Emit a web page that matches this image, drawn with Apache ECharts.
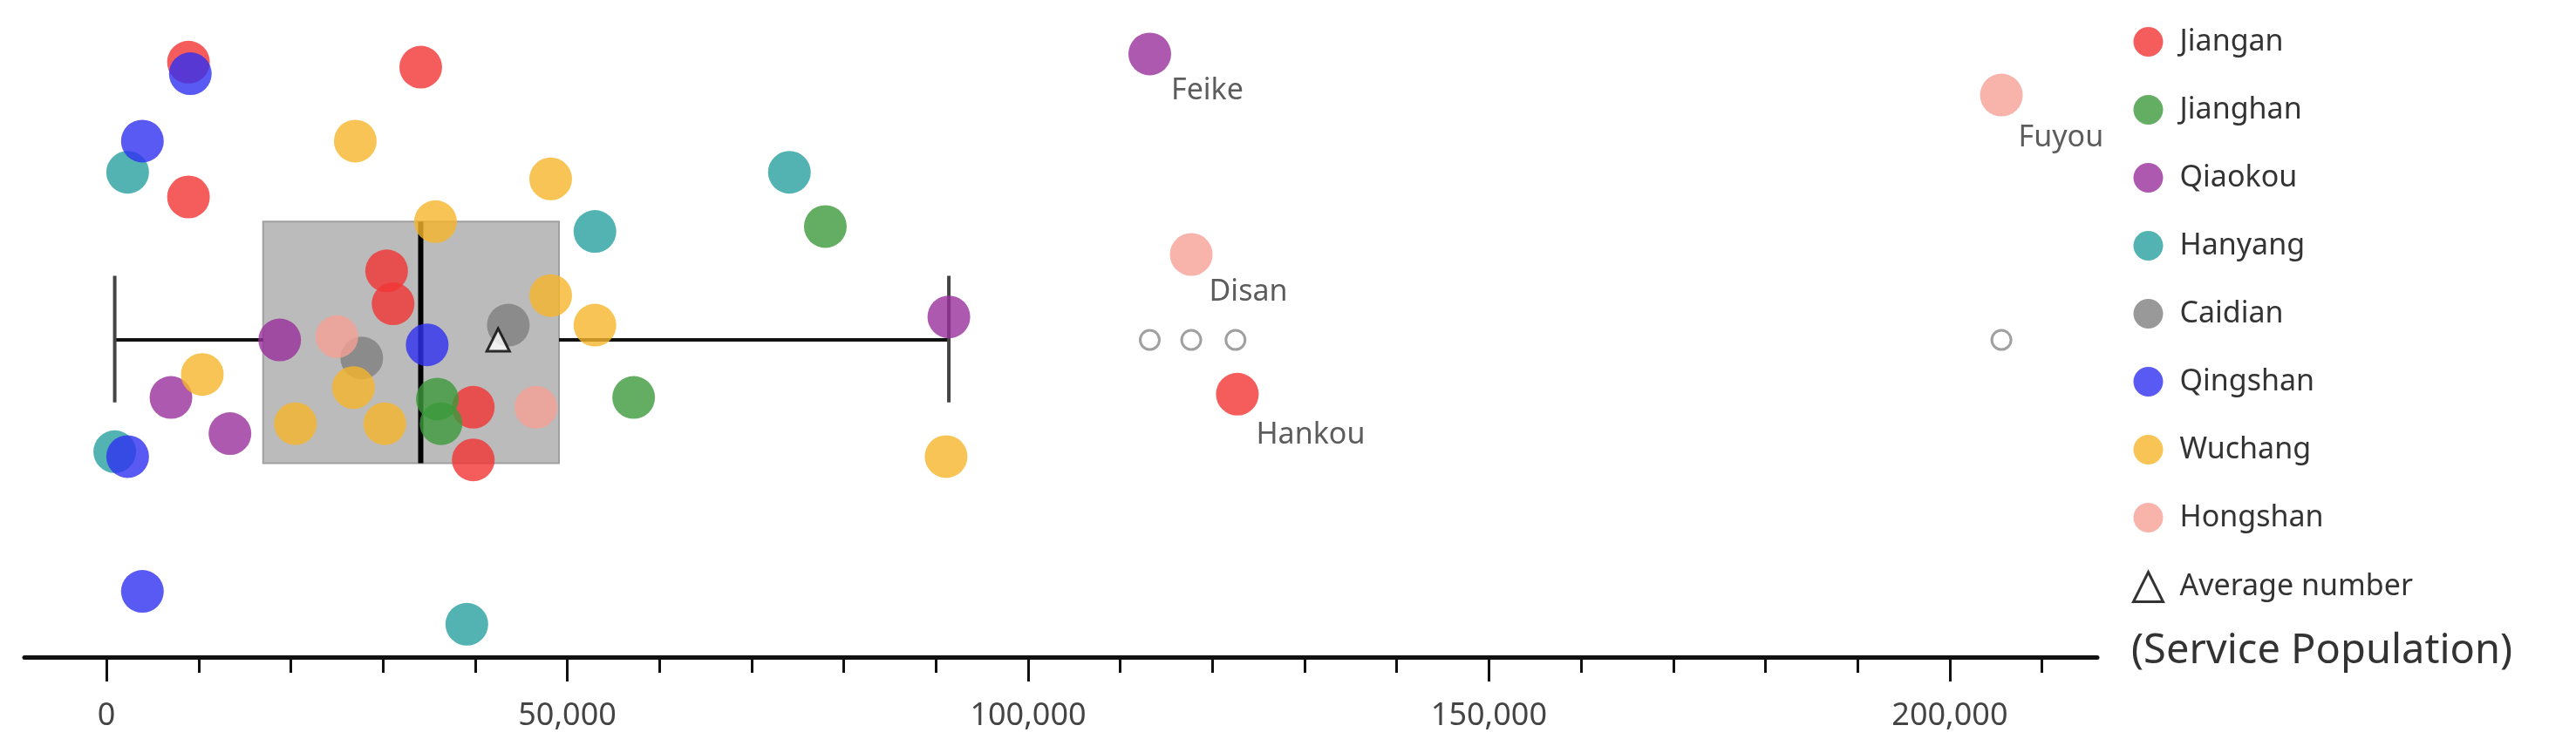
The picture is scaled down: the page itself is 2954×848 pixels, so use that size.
<!DOCTYPE html>
<html>
<head>
<meta charset="utf-8">
<script src="https://cdn.jsdelivr.net/npm/echarts@6/dist/echarts.min.js"></script>
<style>html,body{margin:0;padding:0;background:#fff}</style>
</head>
<body>
<div id="chart" style="width:2954px;height:848px"></div>
<script>
// service population (x) and vertical jitter (y), per district
var districts = ['Jiangan', 'Jianghan', 'Qiaokou', 'Hanyang', 'Caidian', 'Qingshan', 'Wuchang', 'Hongshan'];
var colors = ['#f23434', '#3c9a3c', '#982f9c', '#28a0a0', '#808080', '#2f2ff0', '#f8b52c', '#f6a096'];
var jiangan = [[8900, 362], [34100, 359], [8900, 280], [30400, 235], [31100, 215], [39800, 152], [39800, 120], [122700, 160, 'Hankou']];
var jianghan = [[78000, 262], [57200, 158], [35900, 157], [36300, 142]];
var qiaokou = [[113200, 367, 'Feike'], [91400, 207], [18800, 193], [7000, 158], [13400, 136]];
var hanyang = [[2300, 295], [74100, 295], [53000, 259], [900, 125], [39100, 20]];
var caidian = [[43600, 202], [27700, 182]];
var qingshan = [[9100, 355], [3900, 314], [34800, 190], [2300, 122], [3900, 40]];
var wuchang = [[27000, 314], [48200, 291], [35700, 265], [48200, 220], [53000, 202], [10400, 172], [26800, 164], [20500, 142], [30200, 142], [91100, 122]];
var hongshan = [[205600, 342, 'Fuyou'], [117700, 245, 'Disan'], [25000, 195], [46600, 152]];
var groups = [jiangan, jianghan, qiaokou, hanyang, caidian, qingshan, wuchang, hongshan];
// box: min, q1, median, q3, max
var boxStats = [900, 17000, 34100, 49100, 91400];
var average = 42500;
var outliers = [113200, 117700, 122500, 205600];
var labelOffsets = {Feike: [0, 42], Fuyou: [-5, 49], Disan: [-4, 43], Hankou: [-3, 47]};

var chart = echarts.init(document.getElementById('chart'));
var font = '"Noto Sans", "Open Sans", sans-serif';
var series = [{
    type: 'custom',
    z: 1,
    silent: true,
    data: [boxStats],
    renderItem: function (params, api) {
        var lo = 118, hi = 265, mid = 193, capLo = 155, capHi = 232;
        var p = function (x, y) { return api.coord([x, y]); };
        var q1 = p(api.value(1), hi), q3 = p(api.value(3), lo);
        var line = {stroke: '#111', lineWidth: 4};
        return {type: 'group', children: [
            {type: 'rect', shape: {x: q1[0], y: q1[1], width: q3[0] - q1[0], height: q3[1] - q1[1]},
             style: {fill: 'rgba(150,150,150,0.65)', stroke: '#a0a0a0', lineWidth: 2}},
            {type: 'line', shape: {x1: p(api.value(0), mid)[0], y1: p(0, mid)[1], x2: q1[0], y2: p(0, mid)[1]}, style: line},
            {type: 'line', shape: {x1: q3[0], y1: p(0, mid)[1], x2: p(api.value(4), mid)[0], y2: p(0, mid)[1]}, style: line},
            {type: 'line', shape: {x1: p(api.value(0), 0)[0], y1: p(0, capLo)[1], x2: p(api.value(0), 0)[0], y2: p(0, capHi)[1]}, style: {stroke: '#444', lineWidth: 4}},
            {type: 'line', shape: {x1: p(api.value(4), 0)[0], y1: p(0, capLo)[1], x2: p(api.value(4), 0)[0], y2: p(0, capHi)[1]}, style: {stroke: '#444', lineWidth: 4}},
            {type: 'line', shape: {x1: p(api.value(2), 0)[0], y1: p(0, lo)[1], x2: p(api.value(2), 0)[0], y2: p(0, hi)[1]}, style: {stroke: '#000', lineWidth: 6}}
        ]};
    }
}];
groups.forEach(function (g, i) {
    series.push({
        name: districts[i],
        type: 'scatter',
        symbolSize: 49,
        z: 3,
        itemStyle: {color: colors[i], opacity: 0.8},
        data: g.map(function (d) {
            var o = {value: [d[0], d[1]]};
            if (d[2]) {
                o.label = {show: true, formatter: d[2], position: 'right', distance: 0,
                    offset: labelOffsets[d[2]], fontSize: 34, color: '#333', fontFamily: font};
            }
            return o;
        })
    });
});
series.push({
    type: 'scatter', symbol: 'circle', symbolSize: 22, z: 4, silent: true,
    itemStyle: {color: '#fff', borderColor: '#888', borderWidth: 3},
    data: outliers.map(function (v) { return [v, 193]; })
});
series.push({
    name: 'Average number', type: 'scatter', symbol: 'triangle', symbolSize: [26, 26], z: 5,
    itemStyle: {color: '#fff', borderColor: '#000', borderWidth: 3},
    data: [[average, 193]]
});

var majors = [0, 50000, 100000, 150000, 200000];
var minors = [];
for (var t = 0; t <= 210000; t += 10000) minors.push(t);

chart.setOption({
    animation: false,
    textStyle: {fontFamily: font},
    grid: {left: 28, right: 549, top: 28, bottom: 94},
    legend: {
        orient: 'vertical', left: 2440, top: 26,
        itemWidth: 34, itemHeight: 34, itemGap: 44,
        textStyle: {fontSize: 34, color: '#333', fontFamily: font, padding: [0, 0, 0, 14]},
        data: districts.map(function (d) { return {name: d, icon: 'circle'}; })
            .concat([{name: 'Average number', icon: 'triangle', itemStyle: {color: '#fff', borderColor: '#000', borderWidth: 3}}])
    },
    graphic: [{type: 'text', left: 2444, top: 724,
        style: {text: '(Service Population)', fontSize: 47, fill: '#333', fontFamily: font}}],
    xAxis: [{
        type: 'value', min: -8900, max: 216000,
        splitLine: {show: false},
        axisLine: {lineStyle: {color: '#111', width: 5}},
        axisTick: {customValues: minors, length: 18, lineStyle: {color: '#111', width: 3}},
        axisLabel: {customValues: majors, fontSize: 36, color: '#444', margin: 50,
            formatter: function (v) { return v.toLocaleString('en-US'); }}
    }, {
        type: 'value', min: -8900, max: 216000, position: 'bottom',
        splitLine: {show: false}, axisLine: {show: false}, axisLabel: {show: false},
        axisTick: {customValues: majors, length: 28, lineStyle: {color: '#111', width: 3}}
    }],
    yAxis: {type: 'value', min: 0, max: 385, show: false},
    series: series
});
</script>
</body>
</html>
